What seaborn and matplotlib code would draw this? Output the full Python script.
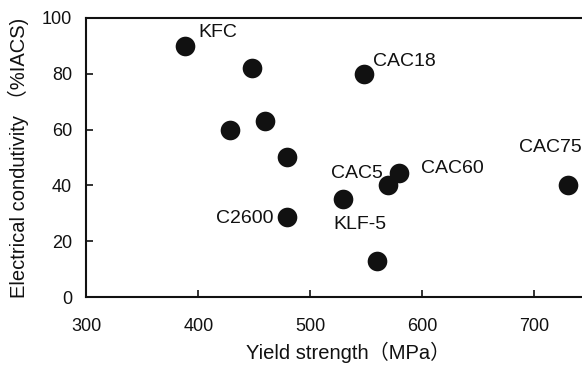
import matplotlib
matplotlib.use("Agg")
import matplotlib.pyplot as plt
import seaborn as sns
import pandas as pd

names = ["KFC", "", "", "", "", "C2600", "CAC18", "KLF-5", "CAC5", "CAC60", "", "CAC75"]
yield_strength = [388, 448, 428, 459, 479, 479, 548, 529, 569, 579, 559, 730]
conductivity = [90, 82, 60, 63, 50, 28.5, 80, 35, 40, 44.4, 13, 40]

df = pd.DataFrame({"name": names, "ys": yield_strength, "ec": conductivity})

sns.set_theme(style="ticks")
plt.rcParams['font.family'] = ['Liberation Sans', 'Noto Sans CJK JP', 'DejaVu Sans']

fig = plt.figure(figsize=(5.82, 3.65), dpi=100)
ax = fig.add_axes([0.1486, 0.1863, 0.866, 0.7644])
sns.scatterplot(data=df, x="ys", y="ec", ax=ax, s=200, color="#111111",
                edgecolor="#111111", linewidth=0, zorder=3, legend=False)

ax.set_xlim(300, 750)
ax.set_ylim(0, 100)
ax.set_xticks([300, 400, 500, 600, 700])
ax.set_yticks([0, 20, 40, 60, 80, 100])
ax.tick_params(direction="in", length=5, width=1.2, labelsize=13, colors="#111111")
ax.tick_params(axis="y", pad=10.5)
ax.tick_params(axis="x", pad=15)
for side in ["left", "bottom", "top"]:
    ax.spines[side].set_linewidth(1.5)
    ax.spines[side].set_color("#111111")
ax.spines["right"].set_visible(False)

ax.set_xlabel("Yield strength（MPa）", fontsize=14.5, color="#111111", va="top")
ax.xaxis.set_label_coords(0.52, -0.16)
ax.set_ylabel("Electrical condutivity （%IACS)", fontsize=14.5, color="#111111", va="center")
ax.yaxis.set_label_coords(-0.136, 0.5)

# offsets in points: (dx, dy, ha)
offsets = {
    "KFC": (9.4, 9.5, "left"),
    "C2600": (-10, -1, "right"),
    "CAC18": (6, 8.5, "left"),
    "KLF-5": (12, -18, "center"),
    "CAC5": (-3.6, 8.5, "right"),
    "CAC60": (16, 3.3, "left"),
    "CAC75": (-13, 27, "center"),
}
for n, x, y in zip(names, yield_strength, conductivity):
    if n in offsets:
        dx, dy, ha = offsets[n]
        ax.annotate(n, (x, y), xytext=(dx, dy), textcoords="offset points",
                    ha=ha, va="center", fontsize=14, color="#111111")

fig.savefig("out.png", dpi=100)
